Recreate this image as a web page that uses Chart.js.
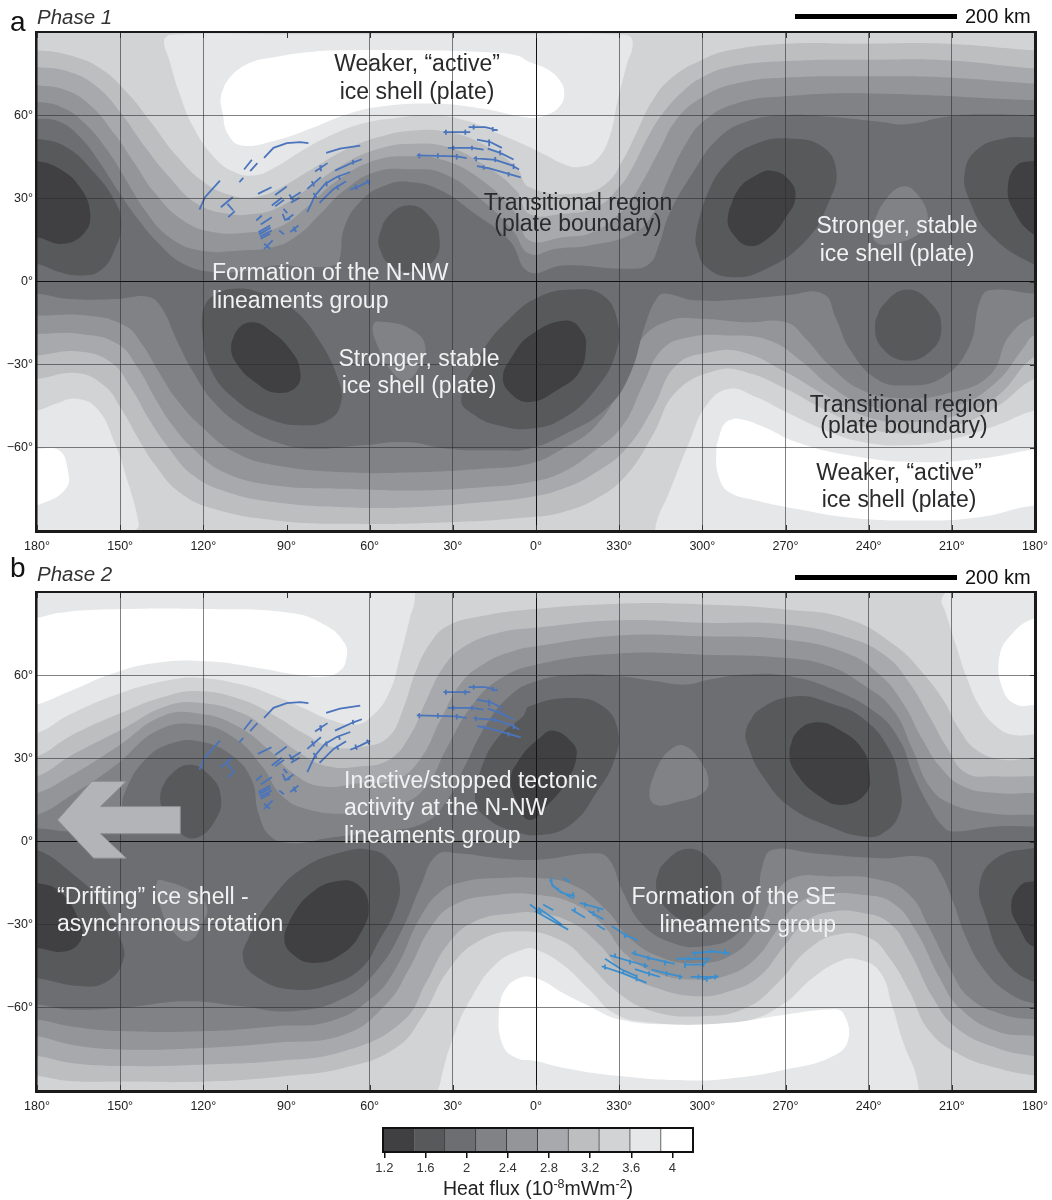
<!DOCTYPE html>
<html>
<head>
<meta charset="utf-8">
<script src="https://cdn.jsdelivr.net/npm/chart.js@4"></script>
<style>
    html, body { margin: 0; background: #fff; }
    #page { position: relative; width: 1052px; height: 1200px; overflow: hidden; font-family: "Liberation Sans", Arial, sans-serif; }
    canvas { position: absolute; left: 0; }
    .txt { position: absolute; white-space: nowrap; transform: translateY(-50%); line-height: 1; font-size: 23px; }
    .mid { transform: translate(-50%, -50%); }
    .end { transform: translate(-100%, -50%); }
    .dark { color: #2a2a2c; }
    .light { color: #f1f1f1; }
    .letter { font-size: 28px; color: #111; }
    .phase { font-size: 20.5px; font-style: italic; color: #333; }
    .km { font-size: 20px; color: #111; }
    .bar { position: absolute; left: 795px; width: 162px; height: 5px; background: #000; }
    .cbtitle { font-size: 19.5px; color: #222; }
    sup { font-size: 12.5px; line-height: 0; }
</style>
</head>
<body>
<div id="page">
    <canvas id="phase1Chart" width="1052" height="560" style="top:0"></canvas>
    <canvas id="phase2Chart" width="1052" height="560" style="top:560px"></canvas>
    <canvas id="fluxChart" width="1052" height="60" style="top:1120px"></canvas>

    <div class="txt letter" style="left:10px;top:22px">a</div>
    <div class="txt phase" style="left:37px;top:17px">Phase 1</div>
    <div class="bar" style="top:14px"></div>
    <div class="txt km" style="left:965px;top:16px">200 km</div>
    <div class="txt mid dark" style="left:417px;top:63px">Weaker, “active”</div>
    <div class="txt mid dark" style="left:417px;top:91px">ice shell (plate)</div>
    <div class="txt mid dark" style="left:578px;top:202px">Transitional region</div>
    <div class="txt mid dark" style="left:578px;top:223px">(plate boundary)</div>
    <div class="txt mid light" style="left:897px;top:225px">Stronger, stable</div>
    <div class="txt mid light" style="left:897px;top:253px">ice shell (plate)</div>
    <div class="txt light" style="left:212px;top:272px">Formation of the N-NW</div>
    <div class="txt light" style="left:212px;top:300px">lineaments group</div>
    <div class="txt mid light" style="left:419px;top:358px">Stronger, stable</div>
    <div class="txt mid light" style="left:419px;top:385px">ice shell (plate)</div>
    <div class="txt mid dark" style="left:904px;top:404px">Transitional region</div>
    <div class="txt mid dark" style="left:904px;top:425px">(plate boundary)</div>
    <div class="txt mid dark" style="left:899px;top:472px">Weaker, “active”</div>
    <div class="txt mid dark" style="left:899px;top:499px">ice shell (plate)</div>

    <div class="txt letter" style="left:10px;top:568px">b</div>
    <div class="txt phase" style="left:37px;top:574px">Phase 2</div>
    <div class="bar" style="top:575px"></div>
    <div class="txt km" style="left:965px;top:577px">200 km</div>
    <div class="txt light" style="left:344px;top:780px">Inactive/stopped tectonic</div>
    <div class="txt light" style="left:344px;top:807px">activity at the N-NW</div>
    <div class="txt light" style="left:344px;top:835px">lineaments group</div>
    <div class="txt light" style="left:57px;top:896px">“Drifting” ice shell -</div>
    <div class="txt light" style="left:57px;top:923px">asynchronous rotation</div>
    <div class="txt end light" style="left:836px;top:896px">Formation of the SE</div>
    <div class="txt end light" style="left:836px;top:924px">lineaments group</div>

    <div class="txt mid cbtitle" style="left:538px;top:1189px">Heat flux (10<sup>-8</sup>mWm<sup>-2</sup>)</div>
</div>

<script>
// ==================== AXES AND COLOUR KEY ====================
// x runs 0..360 degrees from the left edge of the map, so 180 is the 0° meridian
const lonTickLabels = ['180°', '150°', '120°', '90°', '60°', '30°', '0°', '330°', '300°', '270°', '240°', '210°', '180°'];
const latTickLabels = { '60': '60°', '30': '30°', '0': '0°', '-30': '−30°', '-60': '−60°' };
const fluxGreys = ['#404042', '#58595b', '#6d6e71', '#808285', '#939598', '#a7a9ac', '#bcbec0', '#d1d3d4', '#e6e7e8', '#ffffff'];
const fluxEdges = [1.187, 1.49, 1.79, 2.09, 2.39, 2.69, 2.99, 3.29, 3.59, 3.89, 4.2];
const fluxTicks = [1.2, 1.6, 2, 2.4, 2.8, 3.2, 3.6, 4];

// ==================== PHASE 1 CONTOURS (x, lat) ====================
const a_top6 = [[0,83.4],[11.8,81.6],[22.9,76.8],[32.8,67.8],[41.5,56.9],[50.2,45.5],[60.1,35.9],[70,31.1],[78.7,30.5],[87.3,33.5],[98.5,40.1],[110.9,47.3],[123.3,52.1],[135.7,54.5],[148.1,53.9],[160.5,49.7],[172.8,41.3],[177.6,34],[195.6,31.7],[205.3,35.3],[211.3,43.7],[216.1,53.3],[222.1,65.4],[229.3,73.8],[240.2,80.1],[249.8,83.4],[270.2,85.8],[297.9,85.8],[328,85.8],[360,83.4]];
const a_top5 = [[0,77.4],[11.8,75.6],[21.7,70.2],[30.4,60.6],[39,48.5],[47.7,37.7],[57.6,28.1],[68.8,24.4],[78.7,24.4],[87.3,26.8],[98.5,34.1],[110.9,42.5],[123.3,47.9],[135.7,49.7],[148.1,48.5],[160.5,42.5],[172.8,32.9],[177.6,24.4],[189.6,24.4],[201.7,26.8],[210.1,34.1],[214.9,41.3],[219.7,50.9],[225.7,60.6],[234.1,69.6],[240.2,73.8],[249.8,77.4],[270.2,79.5],[300.3,80],[328,79.8],[360,76.8]];
const a_top4 = [[0,70.8],[10.5,69],[19.2,63.6],[27.9,53.3],[35.3,42.5],[42.7,31.7],[52.7,22],[63.8,17.8],[77.4,17.8],[87.3,19.6],[97.3,26.8],[108.4,36.5],[122,43.7],[134.4,45.2],[146.8,43.7],[160.5,36.5],[172.8,24.4],[177.6,14.8],[189.6,16],[200.5,17.8],[211.3,25.6],[217.3,34.1],[224.5,47.3],[230.5,58.2],[240.2,66.6],[252.2,71.4],[270.2,73.6],[300.3,74],[328,73.6],[360,71.4]];
const a_top3 = [[0,64.8],[9.3,62.7],[17.3,57],[25.4,47.3],[32.2,36.5],[39,25.6],[47.7,16],[58.9,11.2],[73.7,11.2],[86.1,12.6],[94.8,17.2],[102.2,24.4],[110.9,32.9],[122,39.5],[134.4,40.5],[146.8,38.9],[160.5,29.3],[171.6,18.4],[177.6,10],[187.2,11.8],[199.2,13],[214.9,17.2],[222.1,24.4],[228.1,37.7],[234.1,49.7],[240.2,57.6],[252.2,64.2],[270.2,66.8],[300.3,67.8],[360,65.4]];
const a_top2 = [[0,58.8],[8.1,57.6],[15.5,52.1],[22.9,42.5],[29.1,32.9],[35.9,23.2],[44,13.6],[52.7,6.4],[63.8,3.4],[76.2,4],[86.1,5.8],[98.5,5.2],[106.6,5.8],[109,7.6],[110.9,19.6],[117.1,29.3],[125.8,34.7],[134.4,35.9],[145.6,32.9],[158,24.4],[170.4,14.8],[177.6,3.4],[189.6,5.8],[213.7,4.6],[220.9,6.4],[224.5,13.6],[228.1,24.4],[236.5,39.1],[245,50.9],[255.8,57.6],[270.2,60],[285.9,59.4],[303.9,57.6],[313.5,56.7],[328,59.4],[340,60.3],[360,60]];
const a_bot2 = [[0,-4.4],[11.8,-6.3],[29.1,-6.3],[40.3,-5.6],[45.2,-9.9],[50.2,-20.7],[56.4,-32.7],[63.8,-43.5],[73.7,-51.9],[86.1,-57.9],[98.5,-60.3],[117.1,-59.1],[133.2,-57.9],[148.1,-60.3],[166.6,-60.9],[177.6,-60.3],[189.6,-55.5],[205.3,-45.9],[213.7,-33.9],[219.7,-14.7],[223.9,-5.6],[226.9,-4.4],[237.7,-6.8],[255.8,-6.3],[270.2,-5],[283.5,-4.4],[288.3,-13.5],[293.1,-24.3],[302.7,-35.1],[313.5,-37.5],[326.8,-34.5],[336.4,-23.1],[340,-7.5],[343.6,-3.2],[360,-4.4]];
const a_bot3 = [[0,-12.3],[18,-12.3],[31.6,-15.9],[37.8,-22.5],[44,-32.7],[50.2,-42.3],[58.9,-51.9],[71.2,-61.5],[86.1,-66.3],[110.9,-68.8],[135.7,-68.8],[160.5,-67.5],[177.6,-65.7],[189.6,-60.3],[201.7,-51.9],[210.1,-38.7],[217.3,-21.9],[228.1,-14.1],[240.2,-13.5],[255.8,-14.7],[270.2,-14.7],[277.4,-20.7],[285.9,-30.3],[297.9,-39.3],[312.3,-42.1],[328,-40.5],[343.6,-33.9],[350.8,-19.5],[360,-12.6]];
const a_bot4 = [[0,-18.9],[15.5,-18.9],[29.1,-22.5],[36.6,-31.5],[42.7,-42.3],[48.9,-51.9],[56.4,-60.3],[67.5,-68.8],[86.1,-73.6],[110.9,-74.8],[135.7,-75.4],[160.5,-74.2],[177.6,-72.4],[189.6,-68.8],[200.5,-61.5],[211.3,-51.9],[218.5,-37.5],[225.7,-24.3],[235.3,-20.1],[249.8,-19.5],[264.2,-21.3],[276.2,-29.1],[285.9,-37.5],[297.9,-44.1],[312.3,-46.5],[331.6,-44.7],[346,-36.3],[355.6,-24.3],[360,-19.2]];
const a_bot5 = [[0,-26.7],[14.2,-25.2],[26.6,-29.1],[34.1,-38.7],[40.3,-49.5],[47.7,-60.3],[56.4,-70],[68.8,-76],[86.1,-79.6],[110.9,-81.4],[135.7,-81.4],[160.5,-79.6],[177.6,-77.8],[189.6,-74.8],[201.7,-68.8],[212.5,-60.3],[222.1,-45.9],[230.5,-30.3],[242.6,-25.5],[254.6,-25.5],[270.2,-32.7],[283.5,-40.5],[297.9,-48.3],[313.5,-50.7],[331.6,-48.3],[346,-41.7],[360,-27]];
const a_bot6 = [[0,-35.1],[14.2,-33],[24.2,-37.5],[30.4,-45.9],[36.6,-56.7],[42.7,-66.3],[51.4,-76],[63.8,-82],[86.1,-86.2],[110.9,-87.4],[148.1,-86.8],[177.6,-85],[189.6,-83.2],[201.7,-78.4],[212.5,-70],[222.1,-55.5],[230.5,-39.9],[245,-32.1],[255.8,-32.7],[270.2,-38.7],[283.5,-45.9],[297.9,-52.3],[313.5,-54.8],[331.6,-51.9],[346,-45.3],[360,-35]];

const a_pale8n = [[48,89],[45.8,87],[47.7,80],[51.4,67.8],[56.4,55.7],[63.8,44.9],[71.2,39.5],[78.7,38.3],[86.1,41.3],[94.8,46.7],[104.7,52.1],[117.1,56.9],[129.5,59],[141.9,60],[154.3,58.2],[166.6,53.3],[177.6,48.5],[183.6,45.5],[189.6,42.5],[195.6,41.3],[201.7,43.7],[206.5,52.1],[209.5,65.4],[212.5,77.4],[214.9,86.4],[212,89],[170,89.2],[130,89.2],[90,89.2]];
const a_white9n = [[66.3,66.6],[68.8,72.6],[76.2,78.6],[86.1,81],[98.5,82.8],[110.9,83.4],[135.7,83.4],[160.5,82.8],[172.8,81.6],[177.6,79.2],[183.6,76.8],[188.4,72.8],[190.2,67.8],[188.4,63],[183.6,60],[177.6,59.1],[160.5,62.4],[141.9,64.2],[123.3,63],[110.9,60],[98.5,55.1],[86.1,50.9],[73.7,49.1],[68.8,53.3],[67,60.6]];
const a_pale8sw = [[-8,-46.5],[0,-46.5],[6.8,-44.1],[14.2,-42.3],[21.7,-45.9],[27.9,-57.9],[32.8,-72.4],[36.6,-86.8],[35.9,-89.5],[30,-92],[-8,-92]];
const a_pale8se = [[223.5,-93],[223.3,-87.4],[228.1,-75.9],[235.3,-57.9],[241.4,-44.7],[249.8,-38.7],[259.4,-41.7],[270.2,-47.1],[285.9,-54.3],[297.9,-57.9],[313.5,-59.1],[330.4,-56.7],[346,-51.9],[360,-46.5],[368,-46.5],[368,-93]];
const a_white9sw = [[-8,-60.3],[0,-60.3],[7.9,-60.9],[11,-67.5],[10.4,-74.8],[0,-80.8],[-8,-82]];
const a_white9se = [[248.6,-50.7],[252.8,-49.5],[261.8,-52.3],[273.8,-57.9],[291.9,-62.5],[315.9,-65.1],[340,-63.9],[360,-60.5],[368,-60],[368,-82],[360,-80.8],[340,-85],[315.9,-86.2],[291.9,-85],[273.8,-82],[259.4,-79],[249.8,-76],[246.2,-71.2],[245,-62.7],[246.2,-55.5]];

const a_spot3s = [[121.4,-15.3],[127,-14.7],[135.7,-17.7],[140,-23.1],[138.1,-30.3],[133.2,-35.7],[128.2,-32.7],[123.3,-24.3]];
const a_spot3n = [[301.5,19.6],[305.1,28.1],[312.3,34.3],[318.3,30.5],[321.4,22],[318.3,17.2],[308.7,13.6],[302.7,14.2]];
const a_core1w = [[-8,51.5],[0,51.5],[10.5,48.5],[20.4,39.5],[27.9,29.3],[30.4,20.8],[27.9,11.2],[22.9,4],[15.5,2.2],[8.1,3.4],[0,6.4],[-8,7]];
const a_core0w = [[-8,43.5],[0,43.5],[8.1,40.7],[15.5,34],[19.2,24.4],[16.8,17.2],[9.3,13.6],[0,16],[-8,16.5]];
const a_core1e = [[368,52],[359.2,52],[348.4,51.5],[338.8,47.3],[334.6,38.9],[336.4,29.3],[343.6,17.2],[359.2,6.4],[368,5]];
const a_core0e = [[368,43.5],[359.2,43.5],[353.2,41.7],[350.2,34],[352,26.2],[359.2,17.2],[368,15]];
const a_core1arch = [[123.3,16],[126.4,23.2],[134.4,27.5],[141.9,23.2],[145.2,15.4],[143.1,7.6],[134.4,3.4],[127,6.4],[123.9,11.2]];
const a_core1n = [[237.7,17.2],[241.4,30.5],[248.6,42.5],[259.4,49.7],[272.6,51.5],[283.5,48.5],[288.3,40.1],[285.9,29.3],[277.4,14.8],[261.8,4],[249.8,1.6],[241.4,5.2],[238.3,11.2]];
const a_core0n = [[249.2,23.2],[252.8,32.9],[259.4,38.3],[265.4,39.9],[271.4,36.5],[273.6,30.5],[270.2,23.2],[264.2,16],[257,12.8],[251,17.2]];
const a_core1s = [[59.5,-17.1],[60.1,-9.9],[63.8,-5],[71.2,-2.6],[79.9,-3.8],[92.3,-9.9],[102.2,-21.9],[109,-36.3],[109.7,-43.5],[105.9,-49.5],[96,-51.9],[83.6,-49.5],[71.2,-42.3],[62.6,-31.5]];
const a_core0s = [[70,-23.7],[72.5,-17.1],[78.1,-14.7],[84.9,-18.3],[91.1,-24.3],[94.8,-31.5],[93.5,-38.1],[86.1,-40.1],[78.7,-36.3],[72.5,-30.3]];
const a_core1m = [[153,-42.3],[160.5,-25.5],[170.4,-13.5],[181,-5.6],[193.2,-2.9],[204.1,-5],[209.5,-14.7],[208.9,-25.5],[201.7,-38.7],[189.6,-49.5],[177.6,-53.1],[166.6,-51.9],[158,-48.3]];
const a_core0m = [[168.1,-33.9],[171.6,-26.7],[177.8,-19.5],[190.8,-14.1],[196.8,-18.3],[198,-24.3],[195.6,-32.7],[188.4,-38.7],[177.6,-43.5],[170.4,-39.9]];
const a_core1u = [[302.3,-15.9],[305.1,-8.7],[314.1,-2.9],[323.2,-8.7],[326.2,-16.5],[323.2,-24.3],[314.1,-28.6],[305.1,-24.3]];

// ==================== PHASE 2 CONTOURS (x, lat) ====================
const b_top6 = [[0,30.7],[11.8,37.9],[30.4,46.4],[46.5,52.4],[58.9,54.2],[73.7,51.2],[86.1,45.2],[96,39.1],[105.9,34.3],[118.3,34.3],[127,37.9],[132,47.6],[136.9,62],[141.9,71.6],[148.1,77.7],[160.5,81.3],[177.6,83.7],[210.1,85.8],[240.2,85.5],[270.2,83.7],[293.1,80.1],[309.9,70.4],[319.5,60.8],[326.8,51.2],[332.8,40.3],[338.8,33.1],[348.4,29.5],[360,30.4]];
const b_top5 = [[0,23.5],[11.8,30.7],[30.4,40.3],[46.5,48.8],[58.9,50],[73.7,46.4],[84.9,39.1],[94.8,31.9],[104.7,27.1],[117.1,27.1],[127,29.5],[134.4,37.9],[140.6,51.2],[146.8,63.2],[154.3,70.4],[166.6,75.3],[180,77.1],[210.1,79.8],[240.2,78.9],[270.2,78.3],[293.1,73.4],[306.3,66.8],[314.7,57.2],[321.9,45.2],[328,34.3],[335.2,24.7],[346,23.5],[360,23.5]];
const b_top4 = [[0,17.5],[11.8,23.5],[29.1,34.3],[45.2,45.2],[58.9,46.1],[72.5,41.5],[83.6,33.1],[92.3,24.7],[102.2,19.9],[117.1,21.1],[129.5,22.3],[138.1,29.5],[145.6,43.9],[153,57.2],[161.7,64.4],[171.6,68.6],[180,70.4],[210.1,74.3],[240.2,74],[270.2,72.8],[291.9,68],[303.9,60.2],[312.3,50],[319.5,36.7],[325.6,27.1],[334,19.9],[346,17.5],[360,17.5]];
const b_top3 = [[0,9.6],[11.8,16.3],[27.9,27.1],[44,40.3],[58.9,42.1],[71.2,37.3],[81.2,27.1],[88.5,16.3],[98.5,11.4],[113.4,10.2],[128.2,12.6],[139.4,18.7],[148.1,34.3],[156.7,48.8],[166.6,58.4],[180,63.8],[210.1,67.8],[240.2,67.4],[270.2,66.2],[285.9,63.2],[297.9,56.6],[308.7,47.6],[315.9,33.1],[321.9,19.9],[329.2,13.8],[343.6,10.2],[360,9.6]];
const b_top2 = [[0,4.8],[11.8,3.6],[24.2,4.2],[29.7,9],[31.6,17.5],[39,29.5],[48.9,35.5],[58.9,36.1],[70,31.3],[77.4,22.3],[79.9,10.2],[84.3,1.8],[92.3,-0.6],[104.7,1.2],[123.3,3.6],[139.4,6.6],[148.1,15],[154.3,27.1],[161.7,41.5],[170.4,52.4],[180,57.8],[195.6,60.2],[210.1,59.6],[223.3,57.8],[234.1,56.6],[242.6,58.4],[255.8,60.2],[270.2,59.8],[285.9,55.4],[302.7,46.4],[311.1,36.7],[315.9,24.7],[321.9,12.6],[326.8,5.4],[330.4,3.6],[346,5.4],[360,5.4]];
const b_bot2 = [[0,-58.8],[11.8,-60.6],[30.4,-60],[53.9,-57.6],[73.7,-59.4],[92.3,-61.2],[110.9,-56.4],[123.3,-45.6],[132,-31.2],[138.1,-16.8],[144.3,-4.8],[151.8,-4.2],[166.6,-6],[180,-6.6],[201.7,-4.2],[206.5,-6.6],[211.3,-18],[218.5,-30],[229.3,-36.6],[240.2,-37.8],[252.2,-33.6],[259.4,-21.6],[261.8,-8.4],[265.4,-3],[279.8,-4.2],[303.9,-6],[320.8,-5.8],[325.6,-10.8],[330.4,-21.6],[335.2,-34.8],[341.2,-45.6],[349.6,-54],[360,-58.5]];
const b_bot3 = [[0,-64.2],[11.8,-66.6],[30.4,-68.4],[61.3,-68.4],[86.1,-66.6],[105.9,-64.8],[120.8,-56.4],[129.5,-45.6],[138.1,-27.6],[145.6,-18],[154.3,-14.4],[166.6,-13.2],[180,-13.2],[193.2,-15.6],[205.3,-24.6],[213.7,-34.8],[225.7,-42],[237.7,-43.8],[249.8,-41.4],[259.4,-32.4],[265.4,-20.4],[272.6,-13.2],[285.9,-12.6],[303.9,-13.8],[314.7,-19.2],[321.9,-31.2],[329.2,-45.6],[336.4,-56.4],[348.4,-62.4],[360,-64.2]];
const b_bot4 = [[0,-70.2],[11.8,-73.2],[30.4,-75],[61.3,-74.4],[86.1,-72.6],[110.9,-69.6],[125.8,-58.8],[134.4,-45.6],[141.9,-31.2],[150.5,-22.8],[166.6,-19.2],[180,-19.2],[193.2,-22.2],[204.1,-30],[212.5,-40.8],[223.3,-47.4],[237.7,-49.8],[249.8,-48],[259.4,-42],[266.6,-32.4],[273.8,-22.8],[283.5,-19.2],[297.9,-19.2],[308.7,-22.2],[317.1,-32.4],[325.6,-49.2],[332.8,-60],[346,-68.4],[360,-70.2]];
const b_bot5 = [[0,-77.4],[11.8,-79.8],[30.4,-81],[61.3,-80.4],[86.1,-79.2],[110.9,-75.6],[132,-64.8],[140.6,-50.4],[148.1,-37.2],[158,-28.8],[172.8,-25.8],[180,-25.8],[192,-28.8],[202.9,-37.2],[211.3,-46.8],[223.3,-52.8],[237.7,-55.8],[249.8,-54],[260.6,-48.6],[269,-38.4],[277.4,-28.8],[285.9,-25.4],[297.9,-25.8],[307.5,-29.4],[314.7,-39.6],[323.2,-56.4],[331.6,-67.2],[346,-74.4],[360,-77.4]];
const b_bot6 = [[0,-84.6],[11.8,-86.4],[30.4,-86.6],[61.3,-86.6],[89.8,-84.6],[110.9,-81.6],[129.5,-74.4],[139.4,-62.4],[148.1,-46.8],[159.2,-36],[174.1,-32.4],[189.6,-36],[199.2,-44.4],[208.9,-54],[222.1,-61.2],[240.2,-63],[255.8,-60],[267.8,-50.4],[277.4,-39.6],[288.3,-33.6],[300.3,-34.8],[307.5,-42],[314.7,-54],[321.9,-68.4],[332.8,-76.8],[346,-81.6],[360,-84.4]];

const b_pale8w = [[-8,93],[-8,39.1],[0,39.1],[11.8,45.8],[30.4,53.6],[48.9,58.4],[58.9,59],[73.7,56.6],[86.1,52.4],[96,48.2],[105.9,43.9],[114.6,42.1],[120.8,45.2],[127,53.6],[130.7,65.6],[134.4,80.1],[136.3,87.9],[135,92],[100,93]];
const b_pale8e = [[330,93],[327.4,89.5],[326.2,86.7],[327.4,83.7],[331.6,70.4],[335.2,59.6],[340,48.8],[346,41.5],[352,38.5],[360,38.6],[368,39],[368,93]];
const b_white9w = [[-8,80.5],[0,80.7],[8.1,82.5],[24.2,83.7],[61.3,83.9],[91.1,82.5],[103.5,78.3],[110.9,71.6],[111.5,65.6],[109,61.4],[103.5,59.4],[93.5,60.2],[79.9,62.6],[61.3,65],[42.7,64.4],[27.9,60.8],[11.8,54.2],[0,49.4],[-8,48]];
const b_white9e = [[368,80.7],[360,80.5],[352,75.2],[347.2,66.8],[348.4,54.8],[353.2,49.4],[360,49.2],[368,49.2]];
const b_pale8s = [[145,-93],[145.6,-86.4],[150.5,-69.6],[156.7,-56.4],[165.4,-44.4],[175.3,-39],[180,-39],[189.6,-44.4],[199.2,-53.4],[208.9,-62.4],[222.1,-65.4],[240.2,-66],[255.8,-64.8],[269,-58.8],[279.8,-49.2],[289.5,-43.2],[295.5,-42.4],[303.9,-46.8],[308.7,-60],[312.3,-72],[317.7,-87],[316,-93]];
const b_white9s = [[166.6,-61.2],[168.5,-54],[174.1,-49.2],[181.3,-49.8],[189.6,-54.6],[199.2,-59.4],[210.1,-64.2],[228.1,-66],[249.8,-65.4],[270.2,-62.4],[285.9,-60.6],[290.7,-61.8],[292.5,-72],[285.9,-78],[270.2,-82.2],[252.2,-85.2],[235.3,-86.2],[210.1,-84.6],[189.6,-81.6],[180,-79.2],[172.8,-78],[167.9,-73.2]];

const b_spot3n = [[220.9,17.5],[223.9,27.1],[229.3,33.7],[234.1,34.3],[238.9,29.5],[242.2,22.3],[240.2,17.5],[231.7,14.4],[223.3,13.2]];
const b_spot3s = [[43.4,-14.4],[48.9,-15],[57.6,-19.2],[61.3,-23.4],[60.1,-28.8],[55.1,-35.8],[49.6,-33],[44.6,-24]];
const b_core1a = [[44.6,17.5],[47.7,23.5],[55.1,27.7],[62.6,23.5],[66.3,16.3],[64.4,7.8],[57,1.2],[50.2,4.2],[45.8,10.2]];
const b_core1b = [[158,15],[160.5,27.1],[166.6,37.9],[175.3,45.2],[177.6,48.8],[193.2,51.8],[204.1,48.8],[209.5,40.3],[208.3,29.5],[201.7,17.5],[193.2,6.6],[182.4,2.4],[170.4,4.2],[161.7,9]];
const b_core0b = [[171,23.5],[174.7,30.7],[181.3,37.3],[186,40],[193.2,35.5],[194.6,30.7],[191.4,22.3],[184.8,13.8],[177.6,7.8],[172.8,15]];
const b_core1c = [[255.8,40.3],[260.6,47.6],[273.8,52.4],[285.9,50],[297.9,44.5],[307.5,33.1],[311.1,21.1],[311.1,10.2],[305.1,3],[297.9,1.8],[285.9,5.4],[271.4,12.6],[261.8,23.5],[257,33.1]];
const b_core0c = [[271.4,31.9],[273.8,39.1],[281,43],[289.5,40.3],[297.9,33.1],[300.3,24.7],[299.1,17.5],[290.7,13.2],[282.3,16.3],[273.8,24.7]];
const b_core1w = [[-8,-3],[0,-3],[11.8,-10.8],[22.9,-21.6],[30.4,-36],[31,-43.2],[25.4,-50.4],[16.7,-52.2],[0,-49.2],[-8,-48]];
const b_core0w = [[-8,-14.5],[0,-15],[8.1,-18],[14.9,-27.6],[16.1,-34.8],[10.5,-39.6],[0,-38.4],[-8,-38]];
const b_core1e = [[368,-2.5],[359.2,-2.4],[346,-6],[340,-15.6],[342.4,-27.6],[348.4,-42],[359.2,-50.4],[368,-50]];
const b_core0e = [[368,-15],[359.2,-14.4],[354.4,-16.2],[351.4,-23.4],[354.4,-31.2],[359.2,-37.8],[368,-38]];
const b_core1d = [[74.3,-42],[77.4,-32.4],[84.9,-20.4],[96,-9.6],[110.9,-3.6],[120.2,-3],[127,-6.6],[130.7,-14.4],[129.5,-24],[123.3,-36],[117.1,-45.6],[105.9,-51.6],[92.3,-53.4],[79.9,-49.2]];
const b_core0d = [[89.2,-34.8],[92.3,-26.4],[99.7,-18],[109,-14.2],[115.8,-15.6],[119.6,-22.8],[117.1,-32.4],[109.7,-40.8],[99.7,-43.8],[92.3,-40.8]];
const b_core1u = [[223.3,-15.6],[225.7,-8.4],[235.3,-2.6],[244.4,-8.4],[247,-15.6],[244.4,-23.4],[235.3,-28.6],[226.3,-23.4]];
const driftArrow = [[7.4,7.8],[19.8,21.7],[32.2,21.7],[22.9,12.6],[51.7,12.6],[51.7,2.8],[22.9,2.8],[32.2,-6],[20.4,-6]];

// ==================== LINEAMENTS (x, lat) ====================
const nnwLineaments = [
    [[81.9,44.6],[85.3,48.2],[90.1,49.9],[94.9,50.3],[97.9,49.9]], [[104.3,46.4],[109.3,47.9],[116.6,49]],
    [[74.7,40.4],[77.5,43.9]], [[76.9,39.8],[79.5,42.7]], [[73,35.8],[74.4,37.4]],
    [[58.6,25.9],[60.6,30.4],[66,36.4]], [[66.3,26.8],[70.6,30.4]], [[68.7,28],[70.8,25.6]], [[69,23.2],[71.4,25.4]],
    [[79.7,31.6],[84.6,34]], [[85.9,31.2],[90.1,34.3]], [[84.7,27.4],[88.3,30.2]], [[85.9,27.1],[89.1,29.5]],
    [[91,31.4],[92.5,29.2]], [[91.3,29.8],[95.1,32.2]], [[91.6,28.4],[94.7,30.2]],
    [[100.3,39.7],[104.8,42.7]], [[102.1,41.9],[102.4,39.8]], [[107.5,40],[114.1,43],[117.2,44.1]], [[113.9,43.9],[114.1,42.2]],
    [[97.5,33.4],[102.4,37.6]], [[99.1,36.2],[100,34.3]],
    [[97.5,25],[100.3,31],[103.9,35.2],[108.1,37.7],[113,39.5]], [[104.3,36.1],[104.5,34.3]], [[108.7,38.3],[109.3,36.7]], [[99.7,31.9],[100.9,30.2]],
    [[101.9,28.4],[107,33.4],[111.5,36.2]], [[108.1,34.6],[108.7,33.1]],
    [[113,33.1],[116.6,34.6],[120.2,36.4]], [[114.8,35],[115.4,33.1]], [[119,36.7],[119.9,35]],
    [[79.1,22],[81.1,23.8]], [[80.7,20.6],[84.7,23.2]], [[79.9,17.8],[84.1,20.2]], [[80.1,17],[84.3,19.4]], [[80.5,16.2],[84.7,18.4]], [[80.7,15.4],[84.1,17.2]],
    [[88.9,26.2],[90.3,24.7]], [[88.6,24.4],[89.5,22.2],[91.3,22.6]], [[89.5,22],[92.5,24.2]],
    [[87.4,18.4],[89.1,17]], [[91.3,17.8],[94.3,20.2]], [[92.5,19.8],[93.5,17.8]], [[81.9,11.8],[85,14.8]], [[81.9,13.6],[84.1,11.8]],
    [[155.7,55.7],[161.7,55.7],[166.2,54.5]], [[157.5,56.5],[157.5,54.8]], [[164.4,55.7],[164.4,54.1]],
    [[146.6,53.9],[156.3,53.9]], [[147.5,54.7],[147.5,52.9]], [[154.5,54.7],[154.5,52.9]],
    [[158.7,51.2],[163.5,50.3],[167.7,48.2]], [[163.1,51.2],[163.1,48.8]],
    [[148.2,48.2],[156.9,48.2],[161.1,47.6]], [[150.2,49],[150.2,47.3]], [[156.9,49],[156.9,47.3]],
    [[162.6,47.9],[167.1,46.4],[171.9,44]], [[167.1,47.3],[167.1,45.5]],
    [[137,45.5],[151.4,45.1],[155,44.5]], [[137.9,46.3],[137.9,44.5]], [[144.6,46.3],[144.6,44.5]], [[151.4,46],[151.4,44]],
    [[157.5,44.5],[165.3,43.9],[171.3,41.9],[173.9,40.4]], [[158.4,45.2],[158.4,43.4]], [[165.3,44.9],[165.3,43.1]], [[171.9,42.5],[171.9,40.6]],
    [[158.7,41.6],[162.9,40.9],[170.1,38.8],[174.5,37.6]], [[161.1,41.9],[161.1,40.3]], [[170.1,39.5],[170.1,37.9]]
];
const seLineaments = [
    [[185,-13.7],[186.2,-16.1],[189.2,-18.5],[194,-19.7]], [[185.6,-13.1],[185.6,-14.7]], [[188,-16.7],[188,-17.9]], [[193.4,-18.3],[193.4,-20.7]],
    [[185.6,-15.5],[188.6,-17.9],[192.8,-20.3]], [[189.8,-13.1],[192.2,-14.7]],
    [[177.8,-22.7],[182,-25.7]], [[179.6,-25.1],[191.6,-31.8]], [[180.8,-23.9],[189.2,-29.9]], [[182.6,-22.7],[186.2,-24.8]],
    [[192.8,-24.5],[197.7,-27.5]], [[194,-23.9],[194,-25.7]],
    [[195.8,-22.1],[204.3,-24.5]], [[197.7,-21.9],[197.7,-23.6]], [[202.5,-23.6],[202.5,-25.5]],
    [[198.9,-25.1],[204.3,-28.1]], [[200.7,-25.1],[200.7,-26.9]], [[201.9,-30],[204.9,-31.8]],
    [[207.3,-30.5],[212.1,-33.6],[216.7,-35.7]], [[212.1,-33],[212.1,-34.8]],
    [[214.5,-40.2],[220.5,-42],[230.1,-44.1]], [[215.7,-39.3],[215.7,-41.1]], [[220.5,-41.1],[220.5,-42.8]], [[226.5,-42.8],[226.5,-44.7]],
    [[230.7,-42.3],[242.2,-42.3]], [[234.9,-41.4],[234.9,-43.2]],
    [[236.2,-40.4],[243.4,-39.6],[250,-40.4]], [[237.4,-39.6],[237.4,-41.4]], [[242.8,-38.7],[242.8,-40.5]], [[248.2,-38.7],[248.2,-40.8]],
    [[233.7,-44.4],[240.4,-44.4],[242.8,-42]], [[233.7,-43.5],[233.7,-45.6]], [[240.4,-43.2],[240.4,-45.2]],
    [[206.7,-41.1],[213.9,-43.2],[220.5,-45]], [[208.5,-40.4],[208.5,-42]], [[213.9,-42.6],[213.9,-44.4]], [[219.3,-43.8],[219.3,-45.6]],
    [[204.9,-42.3],[210.9,-46.2],[216.3,-48.6]],
    [[203.7,-45],[210.9,-47.4],[219.9,-51]], [[204.9,-44.4],[204.9,-46.2]], [[211.5,-46.2],[211.5,-48]], [[216.3,-48],[216.3,-50.4]],
    [[215.7,-46],[219.9,-47.4],[224.7,-48.8]], [[220.8,-46.8],[220.8,-48.6]],
    [[221.7,-46.2],[227.1,-47.6],[232.8,-48.8]], [[227.1,-46.8],[227.1,-48.6]], [[231.9,-48],[231.9,-49.8]],
    [[235.8,-48.8],[245.8,-48.8]], [[239.8,-49.8],[245.8,-48.6]], [[238.6,-48],[238.6,-49.8]], [[241.6,-48.8],[241.6,-50.6]], [[244.6,-48],[244.6,-49.8]]
];

// ==================== BUILDING THE DATASETS ====================
// a region darker than some level: its north contour, then its south contour backwards
function band(top, bottom) {
    const north = [[-8, top[0][1]], ...top, [368, top[top.length - 1][1]]];
    const south = [[-8, bottom[0][1]], ...bottom, [368, bottom[bottom.length - 1][1]]].reverse();
    return north.concat(south);
}

function regionDataset(level, pts, index, total) {
    const ring = pts.concat([pts[0], pts[1]]);
    return {
        data: ring.map(p => ({ x: p[0], y: p[1] })),
        showLine: true,
        fill: 'shape',
        tension: 0.45,
        backgroundColor: fluxGreys[level],
        borderColor: fluxGreys[level],
        borderWidth: 0,
        pointRadius: 0,
        order: total - index + 10
    };
}

function lineamentDataset(lines, color) {
    const data = [];
    lines.forEach(line => {
        line.forEach(p => data.push({ x: p[0], y: p[1] }));
        data.push({ x: NaN, y: NaN });
    });
    return { data, showLine: true, fill: false, tension: 0, borderColor: color, borderWidth: 1.8, pointRadius: 0, order: 1 };
}

const phase1Regions = [
    [8, a_pale8n], [8, a_pale8sw], [8, a_pale8se], [9, a_white9n], [9, a_white9sw], [9, a_white9se],
    [6, band(a_top6, a_bot6)], [5, band(a_top5, a_bot5)], [4, band(a_top4, a_bot4)], [3, band(a_top3, a_bot3)], [2, band(a_top2, a_bot2)],
    [3, a_spot3s], [3, a_spot3n], [1, a_core1w], [1, a_core1e], [1, a_core1arch], [1, a_core1n], [1, a_core1s], [1, a_core1m], [1, a_core1u],
    [0, a_core0w], [0, a_core0e], [0, a_core0n], [0, a_core0s], [0, a_core0m]
];
const phase2Regions = [
    [8, b_pale8w], [8, b_pale8e], [8, b_pale8s], [9, b_white9w], [9, b_white9e], [9, b_white9s],
    [6, band(b_top6, b_bot6)], [5, band(b_top5, b_bot5)], [4, band(b_top4, b_bot4)], [3, band(b_top3, b_bot3)], [2, band(b_top2, b_bot2)],
    [3, b_spot3n], [3, b_spot3s], [1, b_core1a], [1, b_core1b], [1, b_core1c], [1, b_core1w], [1, b_core1e], [1, b_core1d], [1, b_core1u],
    [0, b_core0b], [0, b_core0c], [0, b_core0w], [0, b_core0e], [0, b_core0d]
];

// ==================== PLUGINS ====================
const mapFrame = {
    id: 'mapFrame',
    beforeDatasetsDraw(chart) {
        const a = chart.chartArea;
        chart.ctx.fillStyle = fluxGreys[7];
        chart.ctx.fillRect(a.left, a.top, a.width, a.height);
    },
    afterDraw(chart, args, opts) {
        const ctx = chart.ctx, a = chart.chartArea, xs = chart.scales.x, ys = chart.scales.y;
        if (opts.arrow) {
            ctx.beginPath();
            opts.arrow.forEach((p, i) => ctx[i ? 'lineTo' : 'moveTo'](xs.getPixelForValue(p[0]), ys.getPixelForValue(p[1])));
            ctx.closePath();
            ctx.fillStyle = '#b3b4b7';
            ctx.fill();
            ctx.strokeStyle = '#8d8e91';
            ctx.lineWidth = 1;
            ctx.stroke();
        }
        // short ticks inside the frame
        ctx.strokeStyle = '#333';
        ctx.lineWidth = 1;
        ctx.beginPath();
        xs.ticks.forEach(t => {
            const x = Math.round(xs.getPixelForValue(t.value)) + 0.5;
            ctx.moveTo(x, a.top); ctx.lineTo(x, a.top + 6);
            ctx.moveTo(x, a.bottom); ctx.lineTo(x, a.bottom - 6);
        });
        ys.ticks.forEach(t => {
            const y = Math.round(ys.getPixelForValue(t.value)) + 0.5;
            ctx.moveTo(a.right, y); ctx.lineTo(a.right - 5, y);
        });
        ctx.stroke();
        ctx.fillStyle = '#1a1a1a';
        ctx.fillRect(a.left - 1, a.top - 1, a.width + 2, 2);
        ctx.fillRect(a.left - 2, a.top - 1, 2, a.height + 3);
        ctx.fillRect(a.right - 1, a.top - 1, 3, a.height + 3);
        ctx.fillRect(a.left - 2, a.bottom - 1, a.width + 4, 3);
    }
};

const colourBarFrame = {
    id: 'colourBarFrame',
    afterDraw(chart) {
        const a = chart.chartArea;
        chart.ctx.strokeStyle = '#111';
        chart.ctx.lineWidth = 2;
        chart.ctx.strokeRect(a.left, a.top, a.width, a.height);
    }
};

// ==================== CHARTS ====================
function makeMap(canvasId, regions, lineSets, arrow) {
    const total = regions.length;
    const datasets = regions.map((r, i) => regionDataset(r[0], r[1], i, total))
        .concat(lineSets.map(s => lineamentDataset(s[0], s[1])));
    const gridColor = ctx => {
        const v = ctx.tick.value;
        return Math.abs(v) === 90 ? 'rgba(0,0,0,0)' : 'rgba(45,45,48,0.6)';
    };
    new Chart(document.getElementById(canvasId), {
        type: 'scatter',
        data: { datasets },
        plugins: [mapFrame],
        options: {
            responsive: false,
            animation: false,
            events: [],
            layout: { padding: { top: 32, right: 17, bottom: 0, left: 0 } },
            plugins: { legend: { display: false }, tooltip: { enabled: false }, mapFrame: { arrow } },
            scales: {
                x: {
                    type: 'linear', min: 0, max: 360,
                    // the outer tick labels may hang past the plot, do not let them push it in
                    afterFit: s => { s.height = 29; s.paddingLeft = 0; s.paddingRight = 0; },
                    border: { display: false },
                    grid: { z: 1, drawTicks: false, lineWidth: 1, color: ctx => ctx.tick.value === 180 ? '#111' : gridColor(ctx) },
                    ticks: {
                        stepSize: 30, maxRotation: 0, autoSkip: false, padding: 8, color: '#222',
                        font: { family: 'Liberation Sans', size: 12.5 },
                        callback: (v, i) => lonTickLabels[i]
                    }
                },
                y: {
                    type: 'linear', min: -90, max: 90,
                    afterFit: s => { s.width = 37; s.paddingTop = 0; s.paddingBottom = 0; },
                    border: { display: false },
                    grid: { z: 1, drawTicks: false, lineWidth: 1, color: ctx => ctx.tick.value === 0 ? '#111' : gridColor(ctx) },
                    ticks: {
                        stepSize: 30, padding: 4, color: '#222',
                        font: { family: 'Liberation Sans', size: 12.5 },
                        callback: v => latTickLabels[v] || ''
                    }
                }
            }
        }
    });
}

makeMap('phase1Chart', phase1Regions, [[nnwLineaments, '#4a74bb']]);
makeMap('phase2Chart', phase2Regions, [[nnwLineaments, '#4a74bb'], [seLineaments, '#3b8fcf']], driftArrow);

new Chart(document.getElementById('fluxChart'), {
    type: 'bar',
    data: {
        labels: ['flux'],
        datasets: fluxGreys.map((g, i) => ({
            data: [[fluxEdges[i], fluxEdges[i + 1]]],
            backgroundColor: g,
            borderColor: '#3a3a3a',
            borderWidth: 1,
            barPercentage: 1,
            categoryPercentage: 1,
            grouped: false
        }))
    },
    plugins: [colourBarFrame],
    options: {
        indexAxis: 'y',
        responsive: false,
        animation: false,
        events: [],
        layout: { padding: { top: 8, right: 359, bottom: 0, left: 383 } },
        plugins: { legend: { display: false }, tooltip: { enabled: false } },
        scales: {
            y: { display: false },
            x: {
                type: 'linear', min: fluxEdges[0], max: fluxEdges[10],
                afterBuildTicks: s => { s.ticks = fluxTicks.map(v => ({ value: v })); },
                afterFit: s => { s.height = 28; s.paddingLeft = 0; s.paddingRight = 0; },
                border: { display: false },
                grid: { drawOnChartArea: false, tickLength: 6, tickColor: '#111', lineWidth: 1.5 },
                ticks: {
                    padding: 3, color: '#333', maxRotation: 0, autoSkip: false,
                    font: { family: 'Liberation Sans', size: 13 },
                    callback: v => String(v)
                }
            }
        }
    }
});
</script>
</body>
</html>
